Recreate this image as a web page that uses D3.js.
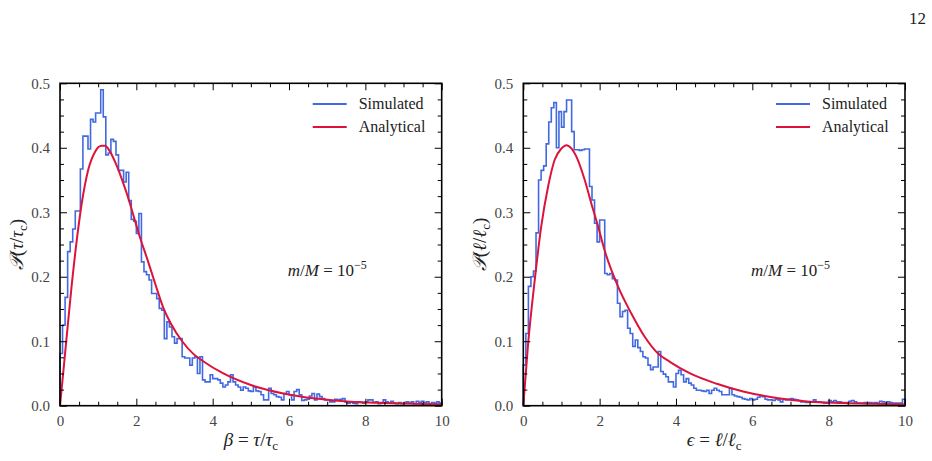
<!DOCTYPE html>
<html>
<head>
<meta charset="utf-8">
<script src="https://cdn.jsdelivr.net/npm/d3@7"></script>
<style>
  body { margin: 0; background: #fff; }
  text { font-family: "Liberation Serif", "Times New Roman", serif; }
</style>
</head>
<body>
<svg id="chart" width="932" height="461"></svg>
<script>
// bins of width 1/15 from 0 to 10
var binWidth = 1 / 15

var simTau = [
  0.081, 0.125, 0.168, 0.239, 0.254, 0.274, 0.302, 0.302, 0.367, 0.418,
  0.418, 0.398, 0.444, 0.440, 0.454, 0.454, 0.490, 0.448, 0.389, 0.392,
  0.413, 0.410, 0.389, 0.365, 0.365, 0.347, 0.362, 0.318, 0.289, 0.286,
  0.267, 0.298, 0.223, 0.208, 0.203, 0.195, 0.174, 0.174, 0.166, 0.151,
  0.148, 0.104, 0.130, 0.122, 0.107, 0.097, 0.104, 0.104, 0.076, 0.074,
  0.074, 0.063, 0.074, 0.076, 0.050, 0.076, 0.040, 0.037, 0.037, 0.048,
  0.042, 0.042, 0.040, 0.035, 0.029, 0.032, 0.037, 0.048, 0.037, 0.032,
  0.029, 0.024, 0.029, 0.027, 0.023, 0.022, 0.029, 0.023, 0.022, 0.017,
  0.009, 0.009, 0.027, 0.019, 0.017, 0.014, 0.013, 0.009, 0.019, 0.022,
  0.017, 0.009, 0.022, 0.025, 0.017, 0.008, 0.009, 0.010, 0.015, 0.019,
  0.009, 0.018, 0.014, 0.011, 0.009, 0.009, 0.006, 0.006, 0.010, 0.009,
  0.010, 0.011, 0.006, 0.004, 0.006, 0.004, 0.003, 0.006, 0.005, 0.004,
  0.006, 0.009, 0.009, 0.005, 0.006, 0.003, 0.005, 0.009, 0.006, 0.004,
  0.007, 0.004, 0.003, 0.005, 0.003, 0.004, 0.006, 0.004, 0.006, 0.003,
  0.007, 0.005, 0.007, 0.005, 0.006, 0.003, 0.005, 0.004, 0.006, 0.004
]

var simEll = [
  0.063, 0.112, 0.185, 0.200, 0.209, 0.268, 0.350, 0.365, 0.372, 0.406,
  0.440, 0.462, 0.470, 0.400, 0.456, 0.432, 0.456, 0.474, 0.474, 0.425,
  0.397, 0.397, 0.396, 0.397, 0.398, 0.398, 0.340, 0.319, 0.283, 0.254,
  0.288, 0.288, 0.205, 0.203, 0.205, 0.197, 0.195, 0.159, 0.138, 0.146,
  0.148, 0.120, 0.112, 0.092, 0.102, 0.090, 0.084, 0.076, 0.074, 0.063,
  0.056, 0.060, 0.060, 0.084, 0.053, 0.049, 0.045, 0.037, 0.037, 0.029,
  0.050, 0.055, 0.048, 0.037, 0.042, 0.035, 0.032, 0.027, 0.024, 0.024,
  0.023, 0.022, 0.024, 0.019, 0.024, 0.027, 0.024, 0.022, 0.017, 0.017,
  0.017, 0.027, 0.017, 0.015, 0.014, 0.013, 0.011, 0.010, 0.009, 0.011,
  0.009, 0.010, 0.013, 0.015, 0.014, 0.010, 0.009, 0.009, 0.008, 0.010,
  0.009, 0.006, 0.010, 0.009, 0.010, 0.011, 0.010, 0.009, 0.008, 0.006,
  0.006, 0.005, 0.006, 0.006, 0.009, 0.006, 0.006, 0.005, 0.004, 0.004,
  0.008, 0.006, 0.008, 0.006, 0.006, 0.005, 0.005, 0.004, 0.007, 0.008,
  0.006, 0.004, 0.004, 0.004, 0.005, 0.005, 0.005, 0.004, 0.005, 0.004,
  0.007, 0.006, 0.005, 0.006, 0.005, 0.004, 0.004, 0.004, 0.004, 0.010
]

// analytical curves
var anaTauX = [0, 0.05, 0.175, 0.3, 0.44, 0.57, 0.74, 0.92, 1.09, 1.18, 1.31, 1.48, 1.61, 1.75, 1.88,
               2.09, 2.3, 2.49, 2.7, 2.9, 3.2, 3.5, 3.75, 4.28, 5.0, 5.85, 6.7, 7.6, 8.5, 10]
var anaTauY = [0, 0.03, 0.107, 0.183, 0.257, 0.314, 0.366, 0.394, 0.403, 0.403, 0.394, 0.373, 0.353, 0.329, 0.304,
               0.262, 0.225, 0.19, 0.153, 0.128, 0.1, 0.08, 0.069, 0.05, 0.032, 0.019, 0.011, 0.006, 0.004, 0.002]

var anaEllX = [0, 0.12, 0.3, 0.47, 0.65, 0.82, 1.0, 1.13, 1.26, 1.43, 1.61, 1.78, 1.96, 2.13,
               2.48, 2.83, 3.18, 3.53, 3.84, 4.37, 5.07, 5.76, 6.64, 7.51, 8.38, 10]
var anaEllY = [0, 0.092, 0.195, 0.278, 0.34, 0.381, 0.399, 0.404, 0.399, 0.381, 0.35, 0.314, 0.278, 0.241,
               0.185, 0.143, 0.107, 0.081, 0.068, 0.05, 0.034, 0.022, 0.012, 0.006, 0.004, 0.002]

var xMajor = [0, 2, 4, 6, 8, 10]
var xMinor = d3.range(0, 10.01, 0.5).filter(function(v){ return v % 2 !== 0 })
var yMajor = [0, 0.1, 0.2, 0.3, 0.4, 0.5]
var yMinor = d3.range(0, 0.501, 0.025).filter(function(v){ return Math.abs(v * 10 - Math.round(v * 10)) > 1e-6 })

var legendLabels = ['Simulated', 'Analytical']

var blue = '#4169e1'
var red = '#dc143c'

var svg = d3.select('#chart')

var plotTop = 83.3, plotBottom = 405.7

var panels = [
  { x0: 60, x1: 441.7, hist: simTau, cx: anaTauX, cy: anaTauY, sym: 'τ', xsym: 'β' },
  { x0: 523.3, x1: 905, hist: simEll, cx: anaEllX, cy: anaEllY, sym: 'ℓ', xsym: 'ϵ' }
]

panels.forEach(function(p) {
  var x = d3.scaleLinear().domain([0, 10]).range([p.x0, p.x1])
  var y = d3.scaleLinear().domain([0, 0.5]).range([plotBottom, plotTop])
  var g = svg.append('g')

  // Histogram outline (step)
  var pts = [[0, 0]]
  p.hist.forEach(function(v, i) {
    pts.push([i * binWidth, v])
    pts.push([(i + 1) * binWidth, v])
  })
  pts.push([10, 0])

  var line = d3.line()
    .x(function(d) { return x(d[0]) })
    .y(function(d) { return y(d[1]) })

  g.append('path')
    .datum(pts)
    .attr('d', line)
    .attr('fill', 'none')
    .attr('stroke', blue)
    .attr('stroke-width', 1.6)

  // Analytical curve
  var curvePts = p.cx.map(function(v, i) { return [v, p.cy[i]] })
  g.append('path')
    .datum(curvePts)
    .attr('d', line.curve(d3.curveMonotoneX))
    .attr('fill', 'none')
    .attr('stroke', red)
    .attr('stroke-width', 2)

  // Axes, ticks inside on all four sides
  function addAxis(axis, transform) {
    var a = g.append('g').attr('transform', transform).call(axis)
    a.select('.domain').remove()
    a.selectAll('.tick line').attr('stroke', '#000').attr('stroke-width', 1)
    a.selectAll('text')
      .attr('font-size', 15)
      .attr('fill', '#444')
      .style('font-family', '"Liberation Serif", "Times New Roman", serif')
    return a
  }
  addAxis(d3.axisBottom(x).tickValues(xMajor).tickSize(-7).tickPadding(10).tickFormat(d3.format('d')), 'translate(0,' + plotBottom + ')')
  addAxis(d3.axisBottom(x).tickValues(xMinor).tickSize(-4).tickFormat(''), 'translate(0,' + plotBottom + ')')
  addAxis(d3.axisTop(x).tickValues(xMajor).tickSize(-7).tickFormat(''), 'translate(0,' + plotTop + ')')
  addAxis(d3.axisTop(x).tickValues(xMinor).tickSize(-4).tickFormat(''), 'translate(0,' + plotTop + ')')
  addAxis(d3.axisLeft(y).tickValues(yMajor).tickSize(-7).tickPadding(10).tickFormat(d3.format('.1f')), 'translate(' + p.x0 + ',0)')
  addAxis(d3.axisLeft(y).tickValues(yMinor).tickSize(-4).tickFormat(''), 'translate(' + p.x0 + ',0)')
  addAxis(d3.axisRight(y).tickValues(yMajor).tickSize(-7).tickFormat(''), 'translate(' + p.x1 + ',0)')
  addAxis(d3.axisRight(y).tickValues(yMinor).tickSize(-4).tickFormat(''), 'translate(' + p.x1 + ',0)')

  g.append('rect')
    .attr('x', p.x0).attr('y', plotTop)
    .attr('width', p.x1 - p.x0).attr('height', plotBottom - plotTop)
    .attr('fill', 'none')
    .attr('stroke', '#000')
    .attr('stroke-width', 1.6)

  // Legend
  ;[blue, red].forEach(function(c, i) {
    var ly = 104 + i * 23
    g.append('line')
      .attr('x1', p.x1 - 129).attr('x2', p.x1 - 95)
      .attr('y1', ly).attr('y2', ly)
      .attr('stroke', c).attr('stroke-width', 2)
    g.append('text')
      .attr('x', p.x1 - 83).attr('y', ly + 5)
      .attr('font-size', 16)
      .attr('fill', '#222')
      .text(legendLabels[i])
  })

  // m/M annotation
  var ann = g.append('text')
    .attr('x', p.x1 - 154).attr('y', 276)
    .attr('font-size', 17)
    .attr('fill', '#222')
  ann.append('tspan').attr('font-style', 'italic').text('m')
  ann.append('tspan').text('/')
  ann.append('tspan').attr('font-style', 'italic').text('M')
  ann.append('tspan').text(' = 10')
  ann.append('tspan').attr('dy', -7).attr('font-size', 12).text('−5')

  // x label
  var xl = g.append('text')
    .attr('x', (p.x0 + p.x1) / 2).attr('y', 446)
    .attr('text-anchor', 'middle')
    .attr('font-size', 19)
    .attr('fill', '#222')
  xl.append('tspan').attr('font-style', 'italic').text(p.xsym)
  xl.append('tspan').text(' = ')
  xl.append('tspan').attr('font-style', 'italic').text(p.sym)
  xl.append('tspan').text('/')
  xl.append('tspan').attr('font-style', 'italic').text(p.sym)
  xl.append('tspan').attr('dy', 4).attr('font-size', 13).text('c')

  // y label
  var yl = g.append('text')
    .attr('transform', 'translate(' + (p.x0 - 37) + ',' + ((plotTop + plotBottom) / 2) + ') rotate(-90)')
    .attr('text-anchor', 'middle')
    .attr('font-size', 19)
    .attr('fill', '#222')
  yl.append('tspan').attr('font-style', 'italic').text('𝒫')
  yl.append('tspan').text('(')
  yl.append('tspan').attr('font-style', 'italic').text(p.sym)
  yl.append('tspan').text('/')
  yl.append('tspan').attr('font-style', 'italic').text(p.sym)
  yl.append('tspan').attr('dy', 4).attr('font-size', 13).text('c')
  yl.append('tspan').attr('dy', -4).text(')')
})

// page number
svg.append('text')
  .attr('x', 926).attr('y', 24)
  .attr('text-anchor', 'end')
  .attr('font-size', 17)
  .attr('fill', '#222')
  .text('12')
</script>
</body>
</html>
